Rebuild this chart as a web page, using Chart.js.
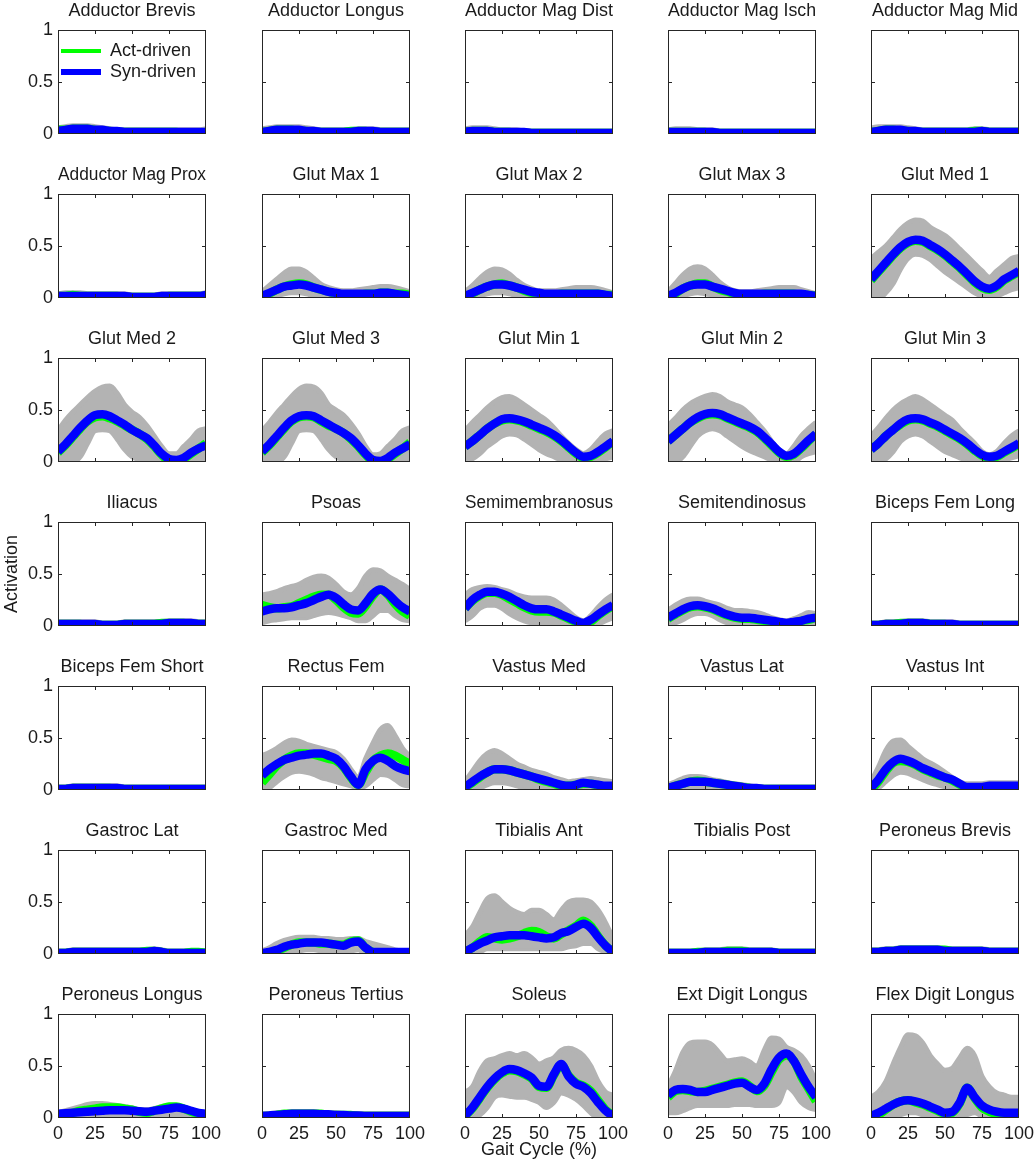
<!DOCTYPE html>
<html>
<head>
<meta charset="utf-8">
<script src="https://cdn.jsdelivr.net/npm/chart.js@4.4.1/dist/chart.umd.min.js"></script>
<style>
  body { margin: 0; background: #fff; }
  #fig { position: relative; width: 1034px; height: 1165px; overflow: hidden; }
  #fig canvas { position: absolute; }
</style>
</head>
<body>
<div id="fig"></div>
<script>
const gaitCycle = [0,5,10,15,20,25,30,35,40,45,50,55,60,65,70,75,80,85,90,95,100];
const xTicks = [0,25,50,75,100];
const yTicks = [0,0.5,1];

const muscles = [
  'Adductor Brevis','Adductor Longus','Adductor Mag Dist','Adductor Mag Isch','Adductor Mag Mid',
  'Adductor Mag Prox','Glut Max 1','Glut Max 2','Glut Max 3','Glut Med 1',
  'Glut Med 2','Glut Med 3','Glut Min 1','Glut Min 2','Glut Min 3',
  'Iliacus','Psoas','Semimembranosus','Semitendinosus','Biceps Fem Long',
  'Biceps Fem Short','Rectus Fem','Vastus Med','Vastus Lat','Vastus Int',
  'Gastroc Lat','Gastroc Med','Tibialis Ant','Tibialis Post','Peroneus Brevis',
  'Peroneus Longus','Peroneus Tertius','Soleus','Ext Digit Longus','Flex Digit Longus'
];

// synergy-driven (blue)
const synDriven = [
  [.03,.04,.05,.05,.05,.04,.04,.03,.03,.02,.02,.02,.02,.02,.02,.02,.02,.02,.02,.02,.02],
  [.02,.03,.04,.04,.04,.04,.03,.03,.02,.02,.02,.02,.02,.03,.03,.03,.02,.02,.02,.02,.02],
  [.02,.03,.03,.03,.02,.02,.02,.02,.02,.01,.01,.01,.01,.01,.01,.01,.01,.01,.01,.01,.01],
  [.02,.02,.02,.02,.02,.02,.02,.01,.01,.01,.01,.01,.01,.01,.01,.01,.01,.01,.01,.01,.01],
  [.02,.03,.04,.04,.04,.03,.03,.02,.02,.02,.02,.02,.02,.02,.02,.03,.02,.02,.02,.02,.02],
  [.02,.02,.02,.02,.02,.02,.02,.02,.02,.02,.01,.01,.01,.01,.02,.02,.02,.02,.02,.02,.03],
  [.02,.05,.08,.11,.12,.13,.12,.10,.08,.06,.05,.04,.04,.04,.04,.04,.05,.05,.04,.03,.02],
  [.02,.05,.08,.11,.13,.13,.12,.10,.08,.06,.05,.04,.04,.04,.04,.04,.04,.04,.04,.03,.02],
  [.02,.05,.09,.12,.13,.13,.11,.09,.07,.05,.04,.04,.04,.04,.04,.04,.04,.04,.04,.03,.02],
  [.18,.26,.34,.42,.49,.54,.56,.55,.51,.47,.42,.36,.30,.23,.16,.11,.09,.12,.18,.22,.26],
  [.10,.17,.25,.33,.40,.45,.46,.44,.40,.36,.31,.27,.23,.16,.08,.03,.02,.04,.09,.13,.16],
  [.10,.17,.25,.33,.40,.44,.45,.44,.40,.36,.32,.28,.23,.16,.08,.02,.01,.04,.09,.13,.17],
  [.15,.20,.26,.32,.37,.41,.42,.41,.39,.36,.33,.30,.26,.21,.15,.09,.05,.06,.10,.15,.20],
  [.20,.26,.32,.38,.43,.46,.47,.46,.43,.40,.37,.34,.30,.24,.17,.10,.06,.08,.14,.21,.27],
  [.12,.18,.25,.31,.37,.41,.42,.41,.38,.35,.31,.27,.23,.18,.12,.07,.05,.06,.10,.14,.18],
  [.02,.02,.02,.02,.02,.02,.01,.01,.01,.02,.02,.02,.02,.02,.02,.03,.03,.03,.03,.02,.02],
  [.14,.16,.17,.17,.18,.20,.22,.25,.28,.30,.27,.21,.16,.15,.22,.31,.35,.31,.24,.18,.14],
  [.17,.25,.30,.33,.33,.31,.28,.24,.20,.17,.16,.16,.14,.11,.08,.05,.03,.06,.11,.16,.20],
  [.08,.12,.16,.19,.20,.19,.17,.14,.11,.09,.08,.08,.07,.06,.05,.04,.03,.04,.05,.07,.08],
  [.01,.01,.02,.02,.02,.03,.03,.03,.02,.02,.02,.02,.01,.01,.01,.01,.01,.01,.01,.01,.01],
  [.01,.01,.02,.02,.02,.02,.02,.02,.02,.01,.01,.01,.01,.01,.01,.01,.01,.01,.01,.01,.01],
  [.14,.20,.25,.29,.31,.33,.34,.35,.35,.33,.30,.23,.13,.05,.20,.28,.31,.28,.23,.20,.18],
  [.03,.08,.13,.17,.20,.20,.19,.17,.15,.13,.11,.09,.07,.05,.04,.05,.07,.06,.05,.04,.04],
  [.02,.04,.06,.08,.08,.08,.07,.06,.05,.04,.03,.02,.02,.01,.01,.01,.01,.01,.01,.01,.01],
  [.02,.10,.20,.27,.30,.28,.25,.21,.18,.15,.12,.10,.06,.03,.03,.03,.04,.04,.04,.04,.04],
  [.01,.01,.02,.02,.02,.02,.02,.02,.02,.02,.02,.02,.02,.03,.02,.01,.01,.01,.01,.01,.01],
  [.01,.02,.04,.07,.09,.10,.11,.11,.11,.10,.09,.08,.11,.12,.06,.02,.02,.02,.02,.02,.02],
  [.02,.06,.10,.13,.16,.17,.18,.18,.18,.17,.16,.15,.16,.20,.22,.26,.29,.25,.16,.08,.02],
  [.01,.01,.01,.01,.01,.02,.02,.02,.02,.02,.02,.02,.02,.02,.02,.01,.01,.01,.01,.01,.01],
  [.02,.02,.03,.03,.04,.04,.04,.04,.04,.04,.03,.03,.03,.03,.03,.03,.02,.02,.02,.02,.02],
  [.04,.045,.05,.055,.06,.065,.07,.075,.075,.075,.07,.065,.06,.07,.08,.09,.10,.09,.07,.05,.04],
  [.02,.025,.03,.035,.04,.04,.04,.04,.035,.035,.03,.03,.025,.025,.02,.02,.02,.02,.02,.02,.02],
  [.02,.10,.20,.30,.38,.44,.47,.46,.43,.39,.31,.30,.42,.52,.40,.33,.30,.24,.15,.07,.02],
  [.22,.27,.28,.27,.25,.25,.27,.29,.31,.33,.34,.30,.27,.33,.47,.58,.62,.55,.42,.30,.20],
  [.02,.05,.09,.13,.16,.17,.16,.14,.11,.08,.05,.06,.15,.29,.20,.12,.08,.06,.05,.05,.05]
];

// activation-driven (green)
const actDriven = [
  [.04,.04,.05,.05,.05,.04,.03,.03,.02,.02,.02,.02,.02,.02,.02,.02,.02,.01,.01,.01,.02],
  [.02,.03,.04,.04,.04,.03,.03,.02,.02,.02,.02,.02,.03,.03,.03,.02,.02,.02,.02,.02,.02],
  [.02,.03,.03,.03,.02,.02,.02,.01,.01,.01,.01,.01,.01,.01,.01,.01,.01,.01,.01,.01,.01],
  [.02,.02,.02,.02,.02,.02,.01,.01,.01,.01,.01,.01,.01,.01,.01,.01,.01,.01,.01,.01,.01],
  [.02,.03,.04,.04,.03,.03,.02,.02,.02,.02,.02,.02,.02,.02,.03,.03,.02,.02,.02,.02,.02],
  [.02,.02,.03,.02,.02,.02,.02,.02,.02,.01,.01,.01,.01,.01,.01,.02,.02,.02,.02,.02,.02],
  [.00,.04,.08,.11,.13,.14,.13,.10,.08,.06,.04,.03,.03,.03,.04,.04,.05,.05,.04,.04,.03],
  [.00,.04,.08,.11,.13,.14,.12,.10,.07,.05,.04,.03,.03,.04,.04,.04,.04,.04,.04,.03,.03],
  [.00,.04,.09,.12,.14,.14,.11,.08,.06,.04,.03,.03,.03,.04,.04,.04,.04,.04,.03,.03,.02],
  [.17,.25,.33,.41,.48,.53,.55,.54,.50,.46,.41,.35,.29,.22,.15,.10,.08,.11,.17,.21,.25],
  [.09,.16,.24,.32,.39,.43,.44,.42,.39,.35,.31,.27,.22,.15,.07,.01,.00,.03,.08,.13,.18],
  [.09,.16,.24,.32,.39,.43,.44,.43,.39,.35,.32,.28,.22,.15,.07,.01,.00,.03,.08,.13,.19],
  [.15,.20,.26,.32,.37,.40,.41,.40,.38,.35,.32,.29,.25,.20,.14,.08,.04,.05,.09,.14,.20],
  [.20,.26,.32,.38,.42,.45,.46,.45,.42,.39,.36,.33,.29,.23,.16,.09,.05,.07,.13,.20,.27],
  [.12,.18,.25,.31,.36,.40,.41,.40,.37,.34,.30,.26,.22,.17,.11,.06,.04,.05,.09,.13,.17],
  [.02,.02,.02,.02,.01,.01,.01,.01,.01,.02,.02,.02,.02,.02,.03,.03,.03,.03,.02,.02,.02],
  [.20,.18,.17,.18,.19,.22,.25,.28,.30,.30,.25,.18,.13,.12,.19,.29,.35,.30,.21,.14,.10],
  [.17,.24,.29,.32,.32,.30,.26,.22,.18,.15,.14,.14,.13,.10,.07,.04,.02,.04,.10,.15,.19],
  [.07,.11,.15,.18,.19,.18,.16,.13,.10,.08,.07,.07,.06,.05,.04,.03,.02,.03,.05,.06,.08],
  [.01,.01,.02,.02,.03,.03,.03,.03,.02,.02,.02,.01,.01,.01,.01,.01,.01,.01,.01,.01,.01],
  [.01,.01,.02,.02,.02,.02,.02,.02,.01,.01,.01,.01,.01,.01,.01,.01,.01,.01,.01,.01,.01],
  [.07,.15,.23,.29,.33,.35,.35,.34,.32,.30,.28,.22,.12,.05,.17,.28,.33,.35,.33,.29,.25],
  [.02,.07,.12,.17,.20,.20,.19,.17,.15,.13,.10,.08,.06,.04,.04,.05,.06,.06,.04,.03,.03],
  [.01,.04,.06,.08,.09,.08,.07,.06,.05,.04,.03,.02,.01,.01,.01,.01,.01,.01,.01,.01,.01],
  [.00,.08,.18,.26,.28,.27,.24,.20,.17,.14,.12,.09,.05,.02,.01,.02,.03,.03,.03,.03,.03],
  [.01,.01,.02,.02,.02,.02,.02,.02,.02,.02,.02,.02,.03,.03,.02,.01,.01,.01,.02,.02,.01],
  [.00,.01,.03,.06,.09,.11,.11,.11,.10,.10,.09,.09,.12,.13,.06,.02,.01,.01,.01,.01,.01],
  [.02,.06,.12,.16,.15,.14,.15,.17,.20,.22,.21,.17,.15,.19,.23,.27,.32,.27,.17,.08,.02],
  [.01,.01,.01,.01,.02,.02,.02,.02,.03,.03,.03,.02,.02,.02,.02,.01,.01,.01,.01,.01,.01],
  [.02,.02,.03,.03,.04,.04,.04,.04,.04,.04,.04,.03,.03,.03,.03,.03,.02,.02,.02,.02,.02],
  [.02,.03,.05,.07,.08,.09,.10,.10,.10,.09,.08,.06,.05,.07,.09,.11,.11,.09,.06,.04,.02],
  [.02,.02,.03,.04,.04,.04,.04,.04,.04,.03,.03,.03,.03,.02,.02,.02,.02,.02,.02,.02,.02],
  [.02,.09,.19,.29,.37,.43,.46,.45,.42,.38,.30,.29,.41,.51,.41,.34,.31,.26,.17,.08,.03],
  [.20,.26,.27,.26,.25,.26,.28,.30,.32,.34,.35,.31,.26,.31,.44,.56,.60,.55,.40,.28,.16],
  [.00,.03,.08,.13,.16,.17,.15,.13,.10,.07,.04,.05,.14,.29,.19,.10,.06,.04,.03,.02,.02]
];

// spread of the individual trials (grey band)
const bandHigh = [
  [.06,.07,.08,.08,.08,.07,.06,.05,.04,.04,.04,.04,.04,.04,.04,.04,.04,.04,.04,.04,.05],
  [.05,.06,.07,.07,.07,.07,.06,.05,.04,.04,.04,.04,.04,.05,.05,.05,.04,.04,.04,.04,.04],
  [.05,.06,.06,.06,.05,.04,.04,.04,.03,.03,.03,.03,.03,.03,.03,.03,.03,.03,.03,.03,.03],
  [.04,.05,.05,.05,.04,.04,.04,.03,.03,.03,.03,.03,.03,.03,.03,.03,.03,.03,.03,.03,.03],
  [.06,.07,.07,.07,.07,.06,.05,.04,.04,.04,.04,.04,.04,.04,.05,.05,.04,.04,.04,.04,.04],
  [.04,.05,.05,.05,.04,.04,.04,.04,.04,.04,.03,.03,.03,.03,.04,.04,.04,.04,.04,.04,.05],
  [.06,.12,.18,.24,.28,.28,.25,.19,.13,.10,.08,.07,.07,.08,.09,.10,.11,.11,.10,.08,.06],
  [.06,.12,.19,.25,.28,.27,.23,.17,.12,.09,.07,.07,.07,.08,.09,.10,.10,.10,.09,.07,.05],
  [.06,.14,.22,.28,.30,.28,.22,.15,.10,.07,.06,.06,.07,.08,.09,.10,.10,.10,.08,.06,.04],
  [.38,.44,.50,.58,.66,.72,.75,.74,.68,.64,.60,.54,.47,.40,.33,.26,.20,.26,.32,.38,.40],
  [.30,.40,.48,.55,.62,.68,.72,.73,.66,.55,.48,.43,.35,.25,.15,.08,.08,.15,.22,.30,.32],
  [.30,.38,.47,.55,.63,.70,.73,.72,.66,.55,.50,.45,.37,.27,.15,.07,.08,.15,.22,.30,.33],
  [.30,.38,.45,.52,.58,.62,.63,.60,.55,.50,.45,.40,.33,.25,.18,.12,.08,.12,.20,.27,.30],
  [.35,.42,.50,.56,.60,.63,.65,.63,.58,.55,.52,.46,.38,.30,.20,.12,.08,.15,.25,.32,.38],
  [.25,.33,.42,.50,.56,.60,.63,.60,.55,.50,.45,.40,.32,.25,.18,.10,.07,.10,.18,.25,.30],
  [.04,.04,.04,.04,.04,.04,.03,.03,.03,.04,.04,.04,.04,.04,.04,.05,.05,.05,.05,.04,.04],
  [.30,.31,.33,.36,.38,.40,.44,.47,.48,.46,.40,.33,.30,.36,.48,.54,.53,.48,.44,.40,.35],
  [.30,.35,.37,.38,.37,.35,.33,.30,.28,.27,.27,.27,.25,.20,.14,.08,.05,.10,.18,.25,.30],
  [.15,.20,.24,.26,.26,.24,.22,.20,.17,.15,.15,.14,.13,.11,.08,.06,.05,.07,.10,.13,.12],
  [.03,.03,.04,.04,.04,.05,.05,.05,.04,.04,.04,.04,.03,.03,.03,.03,.03,.03,.03,.03,.03],
  [.03,.03,.04,.04,.04,.04,.04,.04,.04,.03,.03,.03,.03,.03,.03,.03,.03,.03,.03,.03,.03],
  [.33,.36,.40,.45,.48,.47,.44,.42,.40,.38,.36,.30,.20,.12,.30,.45,.58,.62,.52,.40,.32],
  [.08,.18,.28,.35,.38,.35,.30,.25,.22,.19,.17,.15,.12,.10,.08,.09,.10,.11,.10,.09,.08],
  [.05,.08,.11,.13,.13,.12,.10,.09,.07,.06,.05,.04,.03,.03,.03,.03,.03,.03,.03,.03,.03],
  [.08,.22,.38,.47,.48,.42,.36,.30,.26,.22,.17,.12,.08,.06,.06,.06,.07,.07,.07,.07,.07],
  [.03,.03,.04,.04,.04,.04,.04,.04,.04,.04,.04,.04,.04,.05,.04,.03,.03,.03,.03,.03,.03],
  [.03,.06,.10,.13,.15,.16,.16,.16,.15,.15,.14,.14,.15,.15,.12,.10,.08,.06,.04,.03,.03],
  [.18,.26,.40,.53,.56,.50,.44,.40,.38,.42,.42,.38,.33,.42,.50,.52,.52,.50,.42,.30,.15],
  [.03,.03,.03,.03,.03,.04,.04,.04,.05,.05,.05,.04,.04,.04,.04,.03,.03,.03,.03,.03,.03],
  [.04,.04,.05,.05,.06,.06,.06,.06,.06,.06,.05,.05,.05,.05,.05,.05,.04,.04,.04,.04,.04],
  [.05,.07,.09,.11,.13,.14,.14,.13,.12,.11,.10,.08,.08,.09,.11,.12,.12,.10,.08,.06,.05],
  [.04,.04,.05,.05,.06,.06,.06,.06,.05,.05,.05,.04,.04,.04,.04,.04,.04,.04,.04,.04,.04],
  [.25,.30,.45,.55,.57,.60,.62,.60,.62,.58,.52,.55,.58,.65,.67,.65,.60,.50,.35,.25,.22],
  [.30,.45,.63,.72,.73,.73,.70,.62,.55,.56,.57,.54,.50,.65,.77,.76,.68,.65,.60,.50,.35],
  [.20,.25,.35,.52,.68,.80,.79,.72,.60,.52,.46,.48,.58,.67,.60,.40,.30,.24,.22,.20,.20]
];

const bandLow = [
  [0,0,.01,.01,.01,.01,.01,0,0,0,0,0,0,0,0,0,0,0,0,0,0],
  [0,0,0,0,0,0,0,0,0,0,0,0,0,0,0,0,0,0,0,0,0],
  [0,0,0,0,0,0,0,0,0,0,0,0,0,0,0,0,0,0,0,0,0],
  [0,0,0,0,0,0,0,0,0,0,0,0,0,0,0,0,0,0,0,0,0],
  [0,0,0,0,0,0,0,0,0,0,0,0,0,0,0,0,0,0,0,0,0],
  [0,0,0,0,0,0,0,0,0,0,0,0,0,0,0,0,0,0,0,0,0],
  [0,0,.02,.04,.05,.05,.04,.02,.01,0,0,0,0,0,0,0,0,0,0,0,0],
  [0,0,.02,.04,.05,.05,.04,.02,.01,0,0,0,0,0,0,0,0,0,0,0,0],
  [0,0,.02,.04,.05,.04,.03,.01,0,0,0,0,0,0,0,0,0,0,0,0,0],
  [0,0,.05,.14,.28,.38,.42,.41,.37,.31,.25,.20,.15,.10,.05,.02,.01,.02,.05,.08,.10],
  [0,0,0,.05,.18,.30,.31,.30,.22,.12,.05,.02,0,0,0,0,0,0,0,0,.02],
  [0,0,0,.05,.18,.30,.31,.30,.22,.12,.05,.02,0,0,0,0,0,0,0,0,.02],
  [0,.03,.08,.15,.20,.25,.27,.26,.22,.17,.12,.08,.05,.02,0,0,0,0,.01,.03,.05],
  [0,0,.05,.15,.25,.30,.32,.30,.25,.20,.15,.11,.08,.05,.02,0,0,0,.05,.08,.10],
  [0,0,.03,.10,.20,.25,.27,.25,.20,.15,.10,.07,.04,.02,0,0,0,0,.02,.04,.06],
  [0,0,0,0,0,0,0,0,0,0,0,0,0,0,0,0,0,0,0,0,0],
  [.03,.05,.06,.07,.08,.08,.08,.10,.12,.13,.12,.10,.08,.05,.05,.10,.15,.15,.10,.06,.05],
  [.05,.10,.17,.20,.20,.17,.12,.08,.05,.03,.02,.02,.01,0,0,0,0,0,.02,.05,.08],
  [0,.03,.06,.10,.12,.12,.10,.06,.03,.01,0,0,0,0,0,0,0,0,0,0,0],
  [0,0,0,0,0,0,0,0,0,0,0,0,0,0,0,0,0,0,0,0,0],
  [0,0,0,0,0,0,0,0,0,0,0,0,0,0,0,0,0,0,0,0,0],
  [0,.02,.08,.13,.17,.18,.17,.15,.12,.10,.08,.06,.04,.02,.04,.10,.15,.14,.10,.05,.04],
  [0,0,.02,.05,.07,.07,.06,.04,.02,.01,0,0,0,0,0,0,0,0,0,0,0],
  [0,0,0,0,0,0,0,0,0,0,0,0,0,0,0,0,0,0,0,0,0],
  [0,.02,.08,.14,.17,.16,.13,.10,.07,.05,.03,.02,0,0,0,0,0,0,0,0,0],
  [0,0,0,0,0,0,0,0,0,0,0,0,0,0,0,0,0,0,0,0,0],
  [0,0,0,.01,.02,.03,.04,.04,.03,.02,.02,.02,.03,.04,0,0,0,0,0,0,0],
  [0,0,.02,.05,.05,.05,.05,.05,.05,.05,.05,.05,.05,.05,.07,.08,.10,.10,.05,.02,0],
  [0,0,0,0,0,0,0,0,0,0,0,0,0,0,0,0,0,0,0,0,0],
  [0,0,0,0,0,0,0,0,0,0,0,0,0,0,0,0,0,0,0,0,0],
  [0,0,0,0,0,0,0,0,0,0,0,0,0,.01,.02,.02,.02,.01,0,0,0],
  [0,0,0,0,0,0,0,0,0,0,0,0,0,0,0,0,0,0,0,0,0],
  [0,0,.03,.10,.20,.22,.21,.20,.20,.18,.15,.10,.15,.24,.22,.18,.12,.05,0,0,0],
  [.05,.05,.07,.10,.12,.12,.12,.12,.12,.13,.13,.13,.12,.12,.12,.15,.30,.25,.15,.10,.08],
  [0,0,0,.01,.03,.05,.05,.03,.02,0,0,0,0,.03,.05,.02,0,0,0,0,0]
];

// figure layout (pixel positions of each axes box)
const colLeft = [58, 262, 465, 668, 871];
const rowTop = [30, 194, 358, 522, 686, 850, 1014];
const boxW = 148, boxH = 104;
const padL = 58, padT = 30, padR = 20;

const grey = '#b3b3b3';
const green = '#00ff00';
const blue = '#0000ff';
const ink = '#1a1a1a';

Chart.defaults.font.family = '"Liberation Sans", Arial, Helvetica, sans-serif';
Chart.defaults.font.size = 18;
Chart.defaults.color = ink;

// MATLAB-like box with inward ticks
const boxPlugin = {
  id: 'axesBox',
  afterDatasetsDraw(chart) {
    const { ctx, chartArea: a, scales: { x, y } } = chart;
    ctx.save();
    ctx.strokeStyle = '#262626';
    ctx.lineWidth = 1;
    ctx.strokeRect(a.left + 0.5, a.top + 0.5, a.width - 1, a.height - 1);
    ctx.beginPath();
    xTicks.slice(1, -1).forEach(v => {
      const px = Math.round(x.getPixelForValue(v)) + 0.5;
      ctx.moveTo(px, a.bottom); ctx.lineTo(px, a.bottom - 4);
      ctx.moveTo(px, a.top); ctx.lineTo(px, a.top + 4);
    });
    yTicks.slice(1, -1).forEach(v => {
      const py = Math.round(y.getPixelForValue(v)) + 0.5;
      ctx.moveTo(a.left, py); ctx.lineTo(a.left + 4, py);
      ctx.moveTo(a.right, py); ctx.lineTo(a.right - 4, py);
    });
    ctx.stroke();
    ctx.restore();
  }
};

function points(arr) {
  return gaitCycle.map((g, k) => ({ x: g, y: arr[k] }));
}

const fig = document.getElementById('fig');

muscles.forEach((name, i) => {
  const r = Math.floor(i / 5), c = i % 5;
  const bottomRow = r === rowTop.length - 1;
  const axisH = bottomRow ? 45 : 25;
  const w = padL + boxW + padR, h = padT + boxH + axisH;

  const canvas = document.createElement('canvas');
  canvas.width = w; canvas.height = h;
  canvas.style.width = w + 'px'; canvas.style.height = h + 'px';
  canvas.style.left = (colLeft[c] - padL) + 'px';
  canvas.style.top = (rowTop[r] - padT) + 'px';
  fig.appendChild(canvas);

  const line = { pointRadius: 0, cubicInterpolationMode: 'monotone', clip: 0, borderJoinStyle: 'round' };

  new Chart(canvas, {
    type: 'line',
    data: {
      datasets: [
        { ...line, label: 'lo', data: points(bandLow[i]), borderColor: grey, borderWidth: 5, fill: false, order: 3 },
        { ...line, label: 'hi', data: points(bandHigh[i]), borderColor: grey, borderWidth: 5, backgroundColor: grey, fill: '-1', order: 2 },
        { ...line, label: 'Act-driven', data: points(actDriven[i]), borderColor: green, borderWidth: 8.5, order: 1 },
        { ...line, label: 'Syn-driven', data: points(synDriven[i]), borderColor: blue, borderWidth: 8.5, order: 0 }
      ]
    },
    options: {
      responsive: false,
      maintainAspectRatio: false,
      animation: false,
      events: [],
      layout: { padding: { left: 0, top: 0, right: padR, bottom: 0 } },
      scales: {
        x: {
          type: 'linear', min: 0, max: 100,
          afterBuildTicks: s => { s.ticks = xTicks.map(v => ({ value: v })); },
          afterFit: s => { s.height = axisH; },
          grid: { display: false, drawTicks: false },
          border: { display: false },
          ticks: { display: bottomRow, padding: 5, maxRotation: 0, autoSkip: false, color: ink },
          title: {
            display: bottomRow && c === 2,
            text: 'Gait Cycle (%)',
            color: ink,
            padding: { top: 0, bottom: 2 }
          }
        },
        y: {
          type: 'linear', min: 0, max: 1,
          afterBuildTicks: s => { s.ticks = yTicks.map(v => ({ value: v })); },
          afterFit: s => { s.width = padL; },
          grid: { display: false, drawTicks: false },
          border: { display: false },
          ticks: { display: c === 0, padding: 5, color: ink, callback: v => String(v) },
          title: {
            display: r === 3 && c === 0,
            text: 'Activation',
            color: ink,
            padding: { top: 1, bottom: 0 }
          }
        }
      },
      plugins: {
        title: {
          display: true,
          fullSize: false,
          text: name,
          color: ink,
          font: { size: 18, weight: 'normal' },
          padding: { top: 0, bottom: padT - 21.6 }
        },
        legend: {
          display: i === 0,
          position: 'chartArea',
          align: 'start',
          title: { display: true, text: '', font: { size: 1, lineHeight: 1 }, padding: { top: padT + 8, bottom: 0 } },
          labels: {
            usePointStyle: true,
            pointStyleWidth: 40,
            padding: 3,
            color: ink,
            font: { size: 18 },
            generateLabels: () => [
              { text: 'Act-driven', strokeStyle: green, fillStyle: green, lineWidth: 4, pointStyle: 'line', datasetIndex: 2 },
              { text: 'Syn-driven', strokeStyle: blue, fillStyle: blue, lineWidth: 6, pointStyle: 'line', datasetIndex: 3 }
            ]
          }
        },
        tooltip: { enabled: false }
      }
    },
    plugins: [boxPlugin]
  });
});
</script>
</body>
</html>
